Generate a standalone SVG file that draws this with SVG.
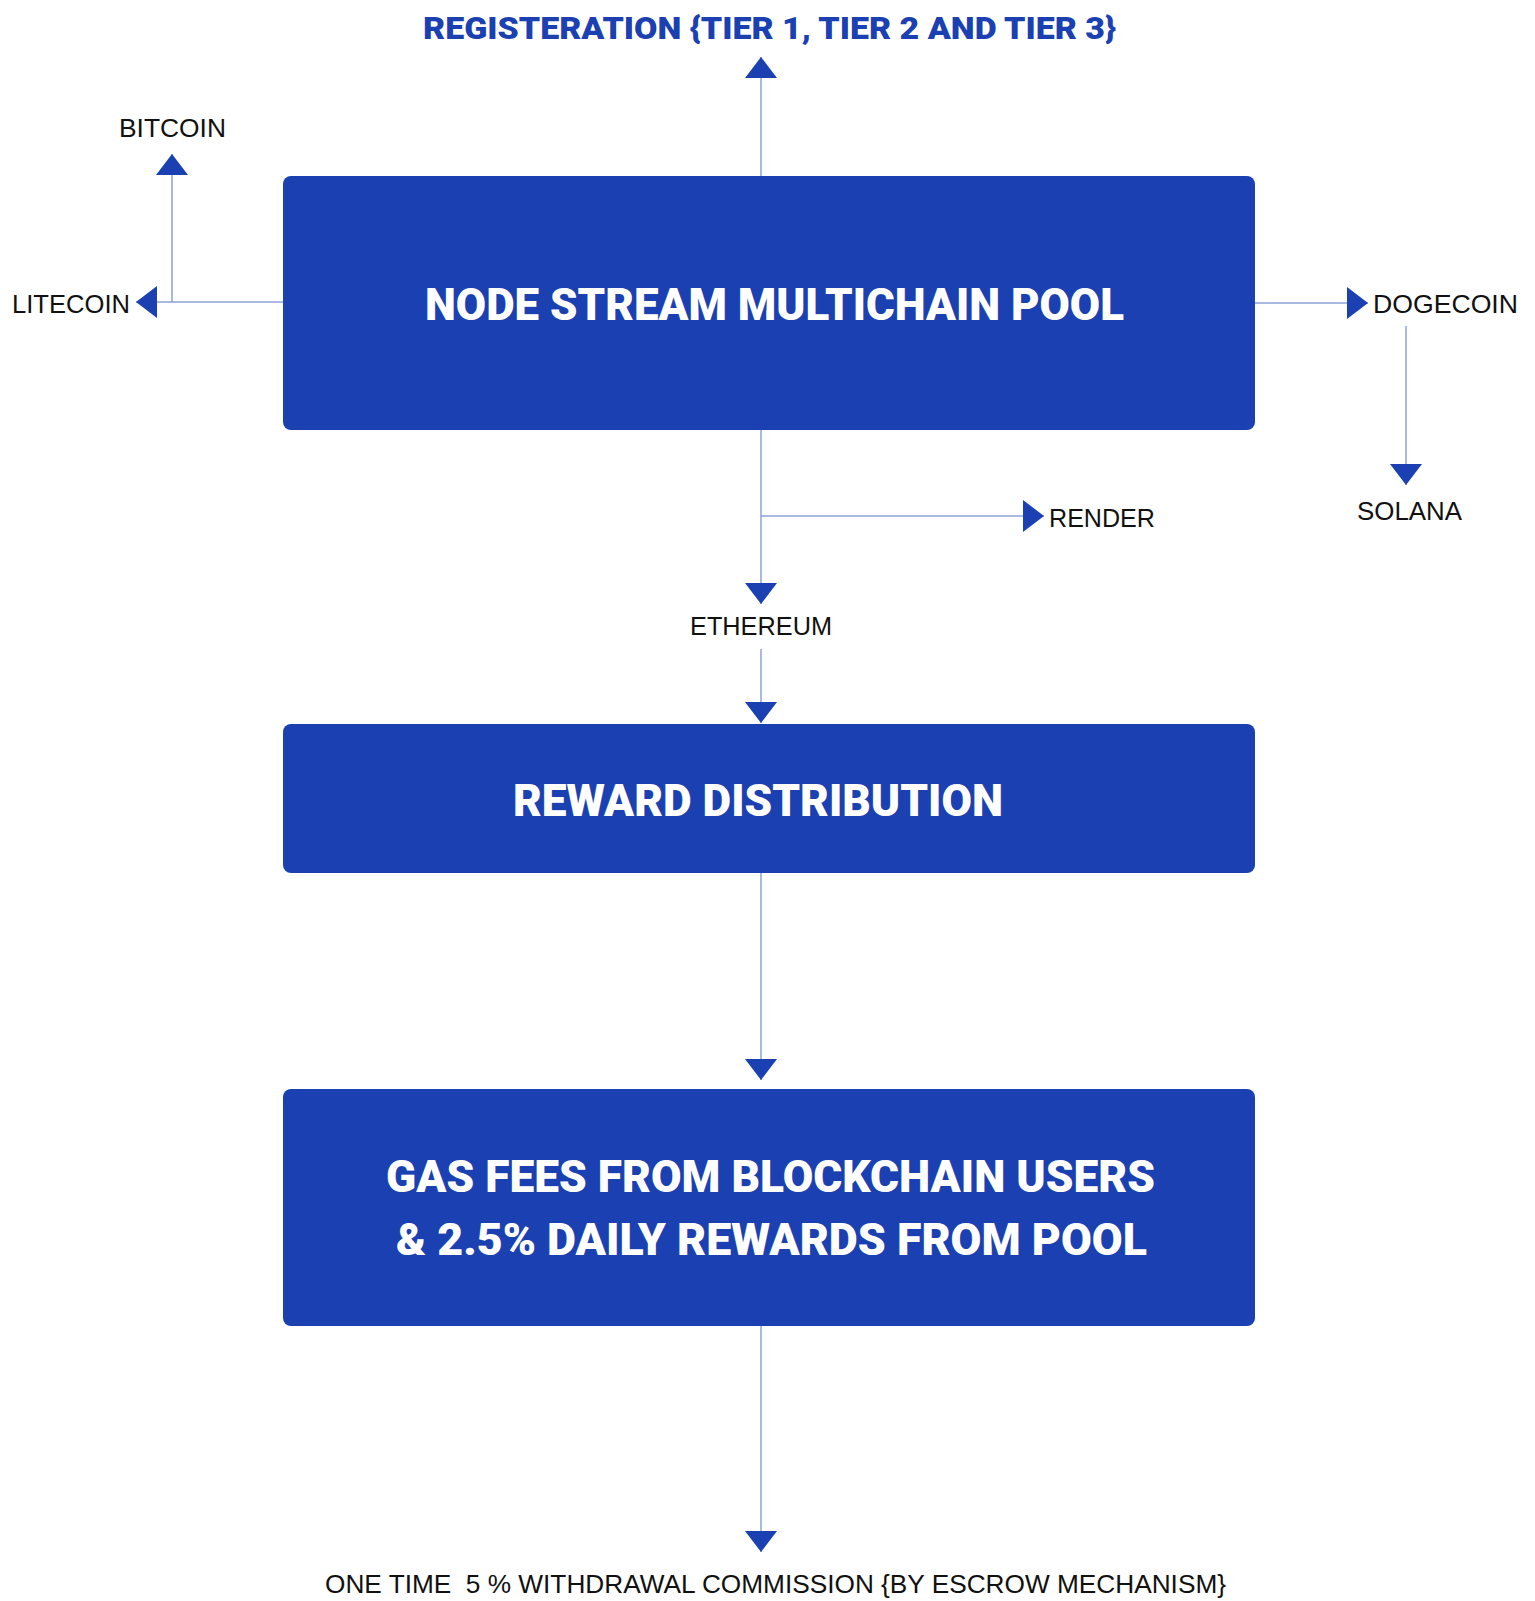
<svg xmlns="http://www.w3.org/2000/svg" width="1535" height="1601" viewBox="0 0 1535 1601">
<style>
.box{fill:#1a40b1}
.bt{font-family:Roboto,"Liberation Sans",sans-serif;font-weight:900;fill:#ffffff;text-anchor:middle}
.lbl{font-family:"Liberation Sans",Arial,sans-serif;font-size:26px;fill:#111111}
.title{font-family:Roboto,"Liberation Sans",sans-serif;font-weight:900;font-size:31px;fill:#1a40b1;text-anchor:middle}
.ln{fill:none;stroke:#8ea2d6;stroke-width:1.5}
.ah{fill:#1a40b1}
</style>
<defs>
<marker id="arr" viewBox="0 0 21 32" refX="21" refY="16" markerWidth="21" markerHeight="32" markerUnits="userSpaceOnUse" orient="auto">
<path class="ah" d="M0,0 L21,16 L0,32 Z"/>
</marker>
</defs>
<rect width="1535" height="1601" fill="#ffffff"/>
<g id="connectors">
<path class="ln" d="M761,176 V57" marker-end="url(#arr)"/>
<path class="ln" d="M283,302 H136" marker-end="url(#arr)"/>
<path class="ln" d="M172,302 V154" marker-end="url(#arr)"/>
<path class="ln" d="M1255,303 H1368" marker-end="url(#arr)"/>
<path class="ln" d="M1406,326 V485" marker-end="url(#arr)"/>
<path class="ln" d="M761,430 V604" marker-end="url(#arr)"/>
<path class="ln" d="M761,516 H1044" marker-end="url(#arr)"/>
<path class="ln" d="M761,649 V723" marker-end="url(#arr)"/>
<path class="ln" d="M761,873 V1080" marker-end="url(#arr)"/>
<path class="ln" d="M761,1326 V1552" marker-end="url(#arr)"/>
</g>
<g id="registration">
<text class="title" x="769.5" y="39" textLength="693" lengthAdjust="spacingAndGlyphs">REGISTERATION {TIER 1, TIER 2 AND TIER 3}</text>
</g>
<g id="pool">
<rect class="box" x="283" y="176" width="972" height="254" rx="8"/>
<text class="bt" x="774.5" y="320" font-size="44" textLength="699" lengthAdjust="spacingAndGlyphs">NODE STREAM MULTICHAIN POOL</text>
</g>
<g id="bitcoin"><text class="lbl" x="119" y="137" textLength="107" lengthAdjust="spacingAndGlyphs">BITCOIN</text></g>
<g id="litecoin"><text class="lbl" x="12" y="313" textLength="118" lengthAdjust="spacingAndGlyphs">LITECOIN</text></g>
<g id="dogecoin"><text class="lbl" x="1373" y="313" textLength="145" lengthAdjust="spacingAndGlyphs">DOGECOIN</text></g>
<g id="solana"><text class="lbl" x="1357" y="520" textLength="105" lengthAdjust="spacingAndGlyphs">SOLANA</text></g>
<g id="render"><text class="lbl" x="1049" y="527" textLength="106" lengthAdjust="spacingAndGlyphs">RENDER</text></g>
<g id="ethereum"><text class="lbl" x="690" y="635" font-size="25" textLength="142" lengthAdjust="spacingAndGlyphs">ETHEREUM</text></g>
<g id="reward">
<rect class="box" x="283" y="724" width="972" height="149" rx="8"/>
<text class="bt" x="758" y="816" font-size="45" textLength="490" lengthAdjust="spacingAndGlyphs">REWARD DISTRIBUTION</text>
</g>
<g id="gasfees">
<rect class="box" x="283" y="1089" width="972" height="237" rx="8"/>
<text class="bt" x="770.5" y="1192" font-size="44" textLength="769" lengthAdjust="spacingAndGlyphs">GAS FEES FROM BLOCKCHAIN USERS</text>
<text class="bt" x="771.5" y="1255" font-size="44" textLength="751" lengthAdjust="spacingAndGlyphs">&amp; 2.5% DAILY REWARDS FROM POOL</text>
</g>
<g id="withdrawal">
<text class="lbl" x="325" y="1593" font-size="25" textLength="901" lengthAdjust="spacingAndGlyphs" xml:space="preserve">ONE TIME  5 % WITHDRAWAL COMMISSION {BY ESCROW MECHANISM}</text>
</g>
</svg>
